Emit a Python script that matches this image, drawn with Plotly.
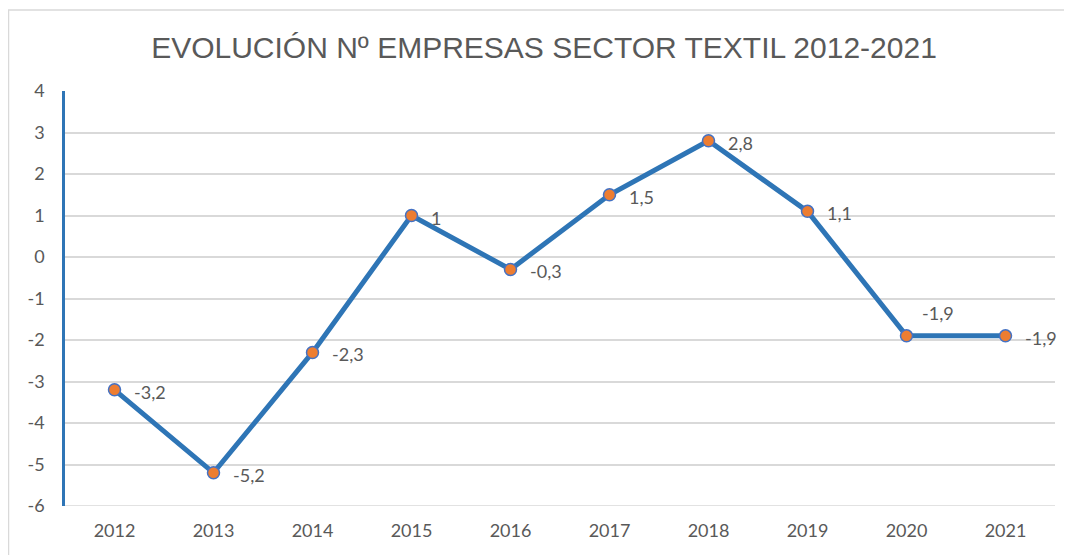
import plotly.graph_objects as go

years = ["2012", "2013", "2014", "2015", "2016", "2017", "2018", "2019", "2020", "2021"]
values = [-3.2, -5.2, -2.3, 1.0, -0.3, 1.5, 2.8, 1.1, -1.9, -1.9]
labels = ["-3,2", "-5,2", "-2,3", "1", "-0,3", "1,5", "2,8", "1,1", "-1,9", "-1,9"]
label_above = [False] * 8 + [True, False]
yticks = [4, 3, 2, 1, 0, -1, -2, -3, -4, -5, -6]

TICK_FONT = dict(family="Lato, Carlito, sans-serif", size=18, color="#595959")

# page has an 8px body margin, so the figure is drawn 8px smaller
W, H = 1064, 547
ML, MR, MT, MB = 57, 17, 83, 49

fig = go.Figure()
fig.add_trace(go.Scatter(
    x=years, y=values, mode="lines+markers",
    line=dict(color="#2E75B6", width=5),
    marker=dict(size=12, color="#ED7D31", line=dict(color="#4472C4", width=1.5)),
    cliponaxis=False,
    hoverinfo="skip",
))

annotations = []
for i, (v, lab, above) in enumerate(zip(values, labels, label_above)):
    if above:
        annotations.append(dict(x=i, y=v, xref="x", yref="y", text=lab, showarrow=False,
                                xanchor="center", yanchor="middle", xshift=31, yshift=23,
                                font=TICK_FONT))
    else:
        annotations.append(dict(x=i, y=v, xref="x", yref="y", text=lab, showarrow=False,
                                xanchor="left", yanchor="middle", xshift=17, yshift=-2,
                                font=TICK_FONT))

plot_h = H - MT - MB
plot_w = W - ML - MR

fig.update_layout(
    width=W, height=H,
    margin=dict(l=ML, r=MR, t=MT, b=MB),
    paper_bgcolor="white", plot_bgcolor="white",
    showlegend=False,
    title=dict(text="EVOLUCIÓN Nº EMPRESAS SECTOR TEXTIL 2012-2021",
               x=536 / W, xanchor="center", y=1 - 39 / H, yanchor="middle",
               font=dict(family="Liberation Sans, Arial, sans-serif", size=30, color="#595959")),
    xaxis=dict(type="category", range=[-0.5, 9.5], showgrid=False, zeroline=False,
               showline=False, ticks="", tickfont=TICK_FONT, ticklabelstandoff=12),
    yaxis=dict(range=[-6, 4], tickvals=yticks, ticktext=[str(v) for v in yticks],
               showgrid=True, gridcolor="#D9D9D9", gridwidth=1.5, zeroline=False,
               showline=True, linecolor="#2E75B6", linewidth=2.5, ticks="",
               tickfont=TICK_FONT, ticklabelstandoff=14),
    annotations=annotations,
    shapes=[
        dict(type="rect", xref="paper", yref="paper",
             x0=(0.5 - ML) / plot_w, x1=1.1, y0=-0.3, y1=(plot_h + MT - 2) / plot_h,
             line=dict(color="#D9D9D9", width=1.5), fillcolor="rgba(0,0,0,0)", layer="below"),
        dict(type="line", xref="paper", yref="y", x0=0, x1=1, y0=-6, y1=-6,
             line=dict(color="#D9D9D9", width=1.5), layer="below"),
    ],
)

fig.write_html("out.html")
